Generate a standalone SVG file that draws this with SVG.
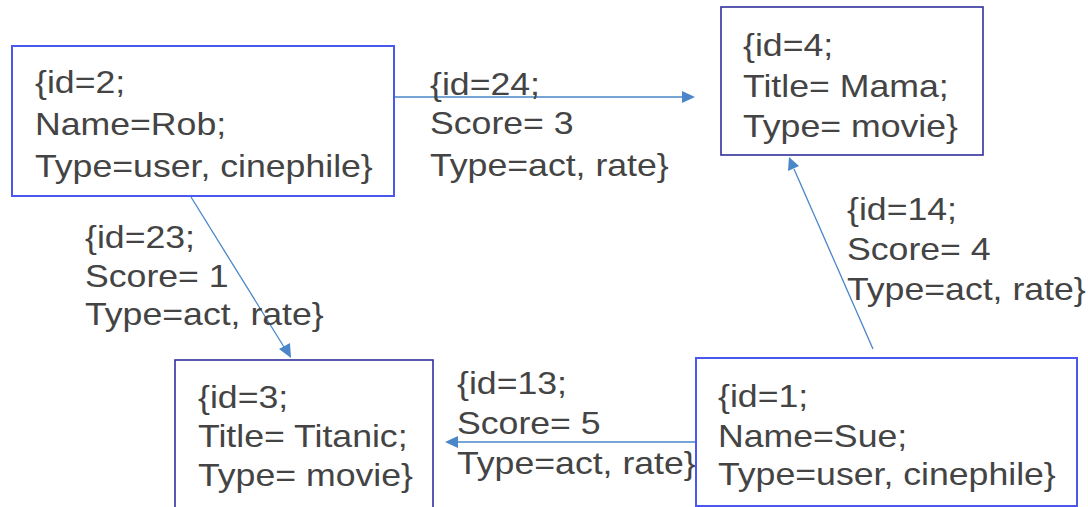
<svg xmlns="http://www.w3.org/2000/svg" width="1088" height="507" viewBox="0 0 1088 507">
  <style>
    .box-a { fill: #ffffff; stroke: #4a58ee; stroke-width: 2; }
    .box-b { fill: #ffffff; stroke: #30309c; stroke-width: 1.6; }
    .txt { font-family: "Liberation Sans", Arial, sans-serif; font-size: 31px; fill: #444444; }
    .edge { stroke: #4a86c8; stroke-width: 1.3; fill: none; }
    .tip { fill: #4a86c8; }
  </style>
  <rect width="1088" height="507" fill="#ffffff"/>

  <!-- connectors with their labels -->
  <g id="edges">
    <g id="e24">
      <line class="edge" x1="394" y1="97" x2="684" y2="97"/>
      <path class="tip" d="M695,97 L682,91 L682,103 z"/>
      <g transform="translate(430,0) scale(1.15,1)">
        <text class="txt" x="0" y="95">{id=24;</text>
        <text class="txt" x="0" y="134">Score= 3</text>
        <text class="txt" x="0" y="176">Type=act, rate}</text>
      </g>
    </g>
    <g id="e23">
      <line class="edge" x1="191" y1="197" x2="284" y2="347"/>
      <path class="tip" d="M291,358 L279,349 L290,343 z"/>
      <g transform="translate(85,0) scale(1.15,1)">
        <text class="txt" x="0" y="248">{id=23;</text>
        <text class="txt" x="0" y="287">Score= 1</text>
        <text class="txt" x="0" y="325">Type=act, rate}</text>
      </g>
    </g>
    <g id="e14">
      <line class="edge" x1="873" y1="349" x2="794" y2="169"/>
      <path class="tip" d="M789,157 L788,171 L799,166 z"/>
      <g transform="translate(847,0) scale(1.15,1)">
        <text class="txt" x="0" y="220">{id=14;</text>
        <text class="txt" x="0" y="260">Score= 4</text>
        <text class="txt" x="0" y="300">Type=act, rate}</text>
      </g>
    </g>
    <g id="e13">
      <line class="edge" x1="696" y1="442" x2="457" y2="442"/>
      <path class="tip" d="M445,442 L458,436 L458,448 z"/>
      <g transform="translate(457,0) scale(1.15,1)">
        <text class="txt" x="0" y="394">{id=13;</text>
        <text class="txt" x="0" y="434">Score= 5</text>
        <text class="txt" x="0" y="474">Type=act, rate}</text>
      </g>
    </g>
  </g>

  <!-- user Rob -->
  <g id="node2">
    <rect class="box-a" x="12" y="46" width="382" height="150"/>
    <g transform="translate(35,0) scale(1.15,1)">
      <text class="txt" x="0" y="93">{id=2;</text>
      <text class="txt" x="0" y="135">Name=Rob;</text>
      <text class="txt" x="0" y="177">Type=user, cinephile}</text>
    </g>
  </g>

  <!-- movie Mama -->
  <g id="node4">
    <rect class="box-b" x="721" y="7" width="262" height="148"/>
    <g transform="translate(743,0) scale(1.15,1)">
      <text class="txt" x="0" y="56">{id=4;</text>
      <text class="txt" x="0" y="97">Title= Mama;</text>
      <text class="txt" x="0" y="137">Type= movie}</text>
    </g>
  </g>

  <!-- movie Titanic -->
  <g id="node3">
    <rect class="box-b" x="175" y="360" width="258" height="170"/>
    <g transform="translate(198,0) scale(1.15,1)">
      <text class="txt" x="0" y="408">{id=3;</text>
      <text class="txt" x="0" y="447">Title= Titanic;</text>
      <text class="txt" x="0" y="486">Type= movie}</text>
    </g>
  </g>

  <!-- user Sue -->
  <g id="node1">
    <rect class="box-a" x="696" y="358" width="381" height="148"/>
    <g transform="translate(718,0) scale(1.15,1)">
      <text class="txt" x="0" y="407">{id=1;</text>
      <text class="txt" x="0" y="447">Name=Sue;</text>
      <text class="txt" x="0" y="485">Type=user, cinephile}</text>
    </g>
  </g>
</svg>
